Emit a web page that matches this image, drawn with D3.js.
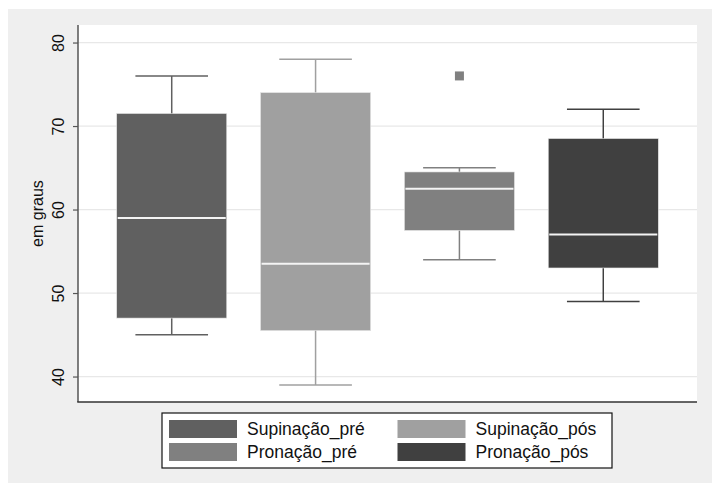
<!DOCTYPE html>
<html>
<head>
<meta charset="utf-8">
<script src="https://cdn.jsdelivr.net/npm/d3@7"></script>
<style>
  html, body { margin: 0; padding: 0; background: #ffffff; }
  svg { display: block; font-family: "Liberation Sans", Arial, Helvetica, sans-serif; }
</style>
</head>
<body>
<svg id="chart" width="712" height="483"></svg>
<script>
// Groups and their box-plot statistics (graus)
const groups = ["Supinação_pré", "Supinação_pós", "Pronação_pré", "Pronação_pós"];
const whiskerLow  = [45, 39, 54, 49];
const q1          = [47, 45.5, 57.5, 53];
const median      = [59, 53.5, 62.5, 57];
const q3          = [71.5, 74, 64.5, 68.5];
const whiskerHigh = [76, 78, 65, 72];
const outliers    = [[], [], [76], []];
const colors      = ["#606060", "#a0a0a0", "#808080", "#404040"];
const yTicks      = [40, 50, 60, 70, 80];
const yTitle      = "em graus";

const svg = d3.select("#chart");

// Outer panel
svg.append("rect").attr("x", 8).attr("y", 9).attr("width", 704).attr("height", 474)
  .attr("fill", "#efefef");

const plot = { left: 78, right: 697, top: 25, bottom: 402 };

svg.append("rect")
  .attr("x", plot.left).attr("y", plot.top)
  .attr("width", plot.right - plot.left).attr("height", plot.bottom - plot.top)
  .attr("fill", "#ffffff");

const y = d3.scaleLinear().domain([36.95, 82.1]).range([plot.bottom, plot.top]);
const x = d3.scaleBand().domain(groups).range([plot.left, plot.right])
  .paddingInner(0.235).paddingOuter(0.269);

// Gridlines
svg.append("g").selectAll("line").data(yTicks).join("line")
  .attr("x1", plot.left).attr("x2", plot.right)
  .attr("y1", d => y(d)).attr("y2", d => y(d))
  .attr("stroke", "#e8e8e8").attr("stroke-width", 1.2);

// Boxes
const data = groups.map((g, i) => ({
  g, lo: whiskerLow[i], q1: q1[i], med: median[i], q3: q3[i], hi: whiskerHigh[i],
  out: outliers[i], color: colors[i]
}));

const bw = x.bandwidth();
const capW = bw * 0.66;
const boxes = svg.append("g").selectAll("g").data(data).join("g")
  .attr("transform", d => `translate(${x(d.g)},0)`);

// whiskers
boxes.append("line")
  .attr("x1", bw / 2).attr("x2", bw / 2)
  .attr("y1", d => y(d.hi)).attr("y2", d => y(d.lo))
  .attr("stroke", d => d.color).attr("stroke-width", 1.5);
boxes.append("line")
  .attr("x1", bw / 2 - capW / 2).attr("x2", bw / 2 + capW / 2)
  .attr("y1", d => y(d.hi)).attr("y2", d => y(d.hi))
  .attr("stroke", d => d.color).attr("stroke-width", 1.5);
boxes.append("line")
  .attr("x1", bw / 2 - capW / 2).attr("x2", bw / 2 + capW / 2)
  .attr("y1", d => y(d.lo)).attr("y2", d => y(d.lo))
  .attr("stroke", d => d.color).attr("stroke-width", 1.5);

// box body
boxes.append("rect")
  .attr("x", 0).attr("width", bw)
  .attr("y", d => y(d.q3)).attr("height", d => y(d.q1) - y(d.q3))
  .attr("fill", d => d.color)
  .attr("stroke", "#e4e4e4").attr("stroke-width", 0.6);

// median
boxes.append("line")
  .attr("x1", 1).attr("x2", bw - 1)
  .attr("y1", d => y(d.med)).attr("y2", d => y(d.med))
  .attr("stroke", "#f4f4f4").attr("stroke-width", 2);

// outliers
boxes.selectAll("rect.out").data(d => d.out.map(v => ({ v, color: d.color }))).join("rect")
  .attr("class", "out")
  .attr("x", bw / 2 - 4.5).attr("y", d => y(d.v) - 4.5)
  .attr("width", 9).attr("height", 9)
  .attr("fill", d => d.color);

// Y axis
const yAxis = d3.axisLeft(y).tickValues(yTicks).tickSize(5).tickPadding(5).tickFormat(d3.format("d"));
const gy = svg.append("g").attr("transform", `translate(${plot.left},0)`).call(yAxis);
gy.select(".domain").attr("stroke", "#555555").attr("stroke-width", 1.5)
  .attr("d", `M0,${plot.top}V${plot.bottom}`);
gy.selectAll(".tick line").attr("stroke", "#555555").attr("stroke-width", 1.2);
gy.selectAll(".tick text")
  .attr("font-size", 16).attr("fill", "#111")
  .attr("text-anchor", "middle")
  .attr("transform", "translate(-20,0) rotate(-90)")
  .attr("x", 0).attr("dy", "0.35em");

// Bottom axis line
svg.append("line")
  .attr("x1", plot.left - 0.75).attr("x2", plot.right)
  .attr("y1", plot.bottom).attr("y2", plot.bottom)
  .attr("stroke", "#333333").attr("stroke-width", 1.5);

// Y title
svg.append("text")
  .attr("transform", `translate(43,${(y(60) + 4)}) rotate(-90)`)
  .attr("text-anchor", "middle")
  .attr("font-size", 16).attr("fill", "#111")
  .text(yTitle);

// Legend
const lg = svg.append("g");
lg.append("rect").attr("x", 162).attr("y", 413).attr("width", 450).attr("height", 55)
  .attr("fill", "#ffffff").attr("stroke", "#111").attr("stroke-width", 1.2);
const cols = [169, 397.5];
const rows = [420, 443];
const items = lg.selectAll("g").data(data).join("g")
  .attr("transform", (d, i) => `translate(${cols[i % 2]},${rows[Math.floor(i / 2)]})`);
items.append("rect").attr("width", 68).attr("height", 18).attr("fill", d => d.color);
items.append("text").attr("x", 78).attr("y", 9).attr("dy", "0.35em")
  .attr("font-size", 17.5).attr("fill", "#111")
  .text(d => d.g);
</script>
</body>
</html>
